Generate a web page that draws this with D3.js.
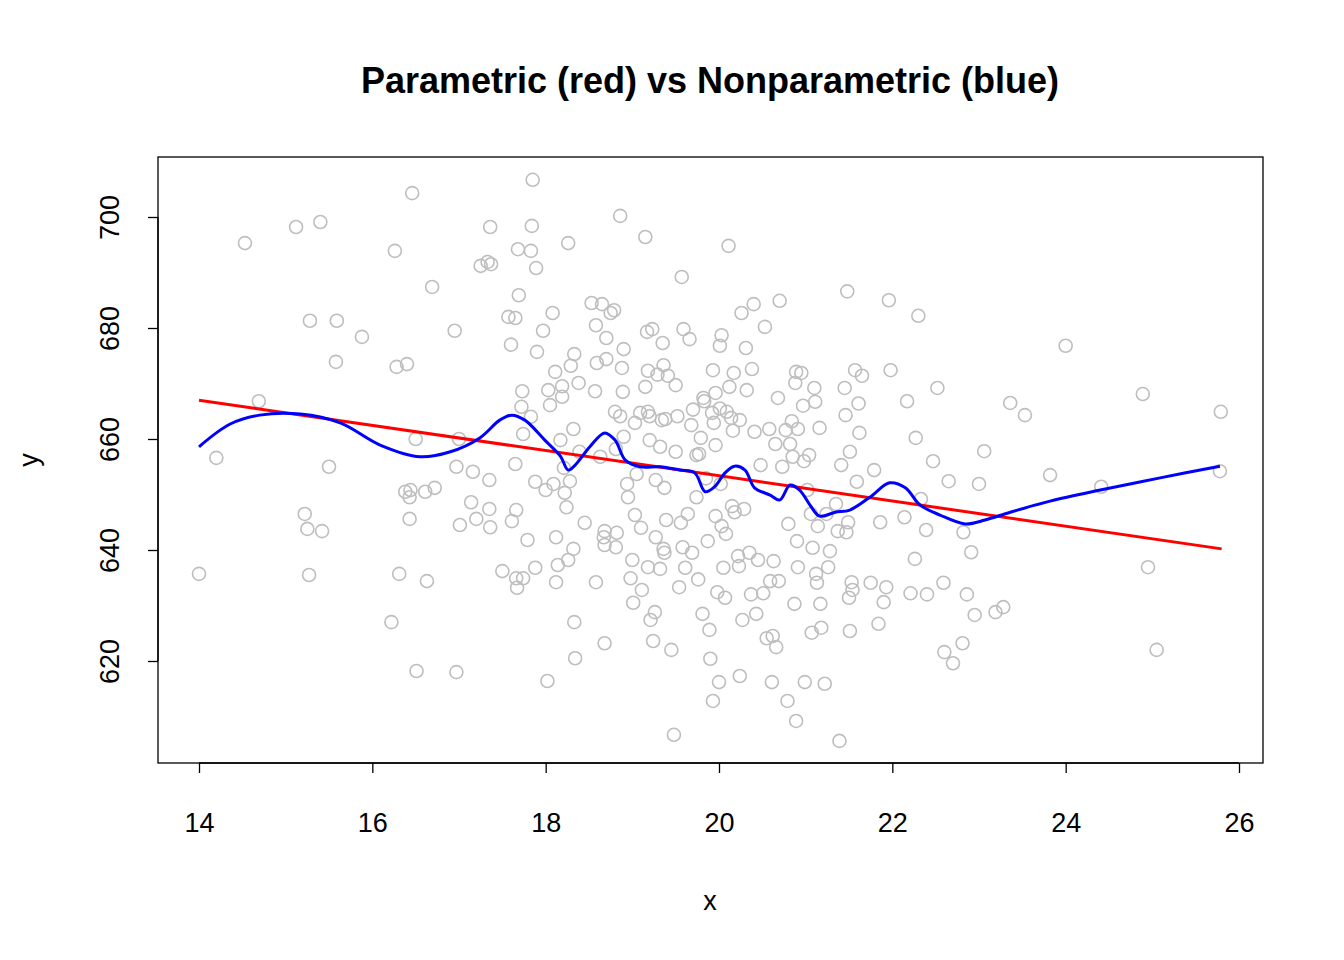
<!DOCTYPE html>
<html>
<head>
<meta charset="utf-8">
<script src="https://cdn.jsdelivr.net/npm/d3@7"></script>
<style>
  body { margin: 0; background: white; }
  text { font-family: "Liberation Sans", Arial, sans-serif; }
</style>
</head>
<body>
<div id="container"></div>
<script>
// scatter points
const px = [14.0,14.2,14.53,14.69,15.12,15.4,15.28,15.59,15.88,15.58,15.22,15.25,15.27,15.42,15.5,16.26,16.46,16.28,16.4,16.22,16.31,16.38,16.44,16.43,16.43,16.5,16.51,16.61,16.63,16.69,16.72,16.95,16.97,16.97,17.0,17.01,17.14,17.16,17.2,17.25,17.33,17.37,17.36,17.35,17.35,17.36,17.5,17.57,17.6,17.65,17.68,17.69,17.65,17.66,17.61,17.66,17.67,17.74,17.73,17.72,17.74,17.79,17.83,17.84,17.85,17.89,17.9,17.83,17.88,17.88,17.97,18.0,18.02,18.03,18.05,18.08,18.11,18.09,18.12,18.12,18.14,18.17,18.19,18.19,18.21,18.22,18.24,18.26,18.28,18.29,18.33,18.32,18.32,18.33,18.34,18.26,18.38,18.39,18.45,18.53,18.58,18.59,18.57,18.58,18.63,18.65,18.67,18.68,18.68,18.68,18.7,18.7,18.75,18.79,18.8,18.81,18.81,18.82,18.86,18.86,18.88,18.89,18.9,18.9,18.94,18.95,18.98,19.0,19.01,19.03,19.03,19.05,19.09,19.1,19.11,19.15,19.15,19.17,19.18,19.18,19.18,19.2,19.2,19.21,19.23,19.24,19.26,19.27,19.27,19.29,19.32,19.32,19.34,19.35,19.36,19.36,19.37,19.37,19.38,19.39,19.41,19.45,19.48,19.5,19.5,19.52,19.54,19.56,19.57,19.58,19.59,19.61,19.64,19.66,19.68,19.69,19.7,19.74,19.74,19.76,19.77,19.79,19.81,19.82,19.83,19.85,19.87,19.89,19.9,19.93,19.93,19.92,19.94,19.96,19.96,19.96,19.98,20.0,20.01,20.01,20.02,20.03,20.03,20.05,20.07,20.08,20.09,20.11,20.12,20.14,20.15,20.16,20.17,20.18,20.22,20.23,20.24,20.24,20.26,20.27,20.29,20.31,20.32,20.35,20.37,20.38,20.4,20.41,20.43,20.45,20.48,20.51,20.53,20.55,20.58,20.59,20.61,20.62,20.63,20.65,20.66,20.68,20.69,20.7,20.73,20.77,20.79,20.8,20.82,20.84,20.85,20.87,20.88,20.89,20.89,20.9,20.91,20.91,20.95,20.97,20.98,20.99,21.02,21.04,21.06,21.07,21.08,21.1,21.11,21.12,21.13,21.14,21.16,21.17,21.18,21.22,21.24,21.26,21.28,21.35,21.37,21.39,21.41,21.45,21.46,21.47,21.48,21.49,21.5,21.51,21.51,21.53,21.54,21.57,21.59,21.61,21.62,21.65,21.75,21.79,21.84,21.86,21.9,21.93,21.96,21.98,22.14,22.17,22.21,22.26,22.27,22.3,22.33,22.39,22.4,22.47,22.52,22.59,22.6,22.65,22.7,22.81,22.82,22.86,22.91,22.95,23.0,23.06,23.19,23.28,23.36,23.53,23.82,24.0,24.41,24.89,24.95,25.05,25.79,25.78];
const py = [635.7,656.6,695.3,666.8,698.2,699.1,681.3,681.3,678.4,673.9,646.5,643.8,635.5,643.4,655.0,693.9,704.3,673.0,673.5,627.0,635.7,650.5,650.8,649.5,645.6,660.0,618.2,650.5,634.4,687.4,651.2,679.5,618.0,655.0,660.0,644.5,648.6,654.1,645.6,691.2,691.9,691.5,698.2,652.6,647.4,644.1,636.2,682.0,677.0,681.8,694.2,685.9,655.5,647.2,645.2,634.9,633.2,634.9,668.6,665.8,660.9,641.8,693.9,698.4,706.7,690.8,675.7,664.0,636.8,652.3,679.5,650.8,616.4,668.8,666.1,682.7,672.1,651.9,642.3,634.2,637.3,659.8,667.6,669.5,654.8,650.3,647.7,695.3,652.4,673.2,675.3,661.8,640.2,627.0,620.5,638.2,670.1,657.7,644.9,684.5,680.5,673.7,668.6,634.2,656.8,684.3,642.3,640.9,643.4,623.2,674.4,678.2,682.7,683.2,664.9,640.5,658.2,643.1,664.1,700.2,672.8,668.5,676.2,660.4,651.9,649.5,634.9,638.2,630.5,662.9,646.3,653.7,664.7,644.0,632.8,696.4,669.4,679.3,672.3,664.9,636.9,659.8,664.1,627.4,679.8,623.6,628.8,652.6,642.3,671.6,636.6,658.6,663.4,677.3,673.3,640.2,639.5,651.2,663.6,645.4,671.4,622.0,606.7,669.7,657.7,664.1,633.3,644.9,689.2,640.5,679.8,636.8,646.5,678.0,662.5,639.5,665.3,657.1,649.5,634.7,657.3,660.2,628.5,667.4,666.8,652.9,641.6,625.6,620.4,612.8,672.4,664.7,662.9,668.3,658.9,646.1,632.4,616.2,665.5,676.8,651.9,644.3,678.7,636.8,631.4,642.9,664.9,694.8,669.4,663.8,647.9,661.5,671.9,646.8,638.9,637.1,663.4,617.3,682.7,627.4,647.4,676.4,668.8,639.5,632.0,672.6,684.3,661.3,628.5,638.2,655.3,632.2,680.2,624.1,661.8,634.4,616.2,624.5,638.0,659.1,622.5,667.4,634.4,684.9,655.0,661.6,612.8,644.7,659.1,663.2,656.8,630.3,670.1,672.1,609.2,641.6,636.9,661.8,671.9,666.0,656.0,616.2,650.8,657.1,646.5,625.1,640.4,669.2,666.7,635.7,634.1,644.3,662.0,630.3,626.0,615.9,646.5,636.9,639.8,648.3,643.4,605.6,655.3,669.2,664.3,643.2,686.6,645.0,631.4,657.7,625.4,634.2,632.8,672.4,652.3,666.4,661.1,671.4,634.1,654.4,626.7,645.0,630.6,633.3,685.0,672.4,645.9,666.8,632.2,638.4,660.2,682.2,649.2,643.6,632.0,656.0,669.2,634.1,621.6,652.4,619.6,623.2,643.2,632.0,639.6,628.3,651.9,657.8,628.8,629.7,666.5,664.3,653.5,676.8,651.4,668.1,636.9,622.0,664.9,654.2];

// parametric fit (red), endpoints
const fitX = [14.0, 25.8];
const fitY = [667.0, 640.2];

// nonparametric fit (blue)
const smX = [14.0,14.36,14.7,15.17,15.63,16.09,16.55,16.9,17.24,17.47,17.61,17.76,17.99,18.17,18.26,18.34,18.51,18.68,18.8,18.92,19.09,19.32,19.55,19.72,19.84,19.95,20.07,20.18,20.3,20.41,20.59,20.7,20.82,20.93,21.05,21.16,21.34,21.51,21.74,21.97,22.15,22.32,22.55,22.84,23.07,23.36,23.82,24.4,25.09,25.78];
const smY = [658.6,662.7,664.3,664.5,662.9,658.9,656.8,657.7,660.2,663.4,664.3,663.4,659.8,656.9,654.4,655.3,658.6,661.1,659.8,656.2,655.0,655.0,654.4,653.9,650.5,651.4,653.9,655.1,654.4,651.2,649.9,649.0,651.7,650.8,648.1,646.1,646.8,647.2,649.5,652.1,651.2,648.1,646.3,644.7,645.4,646.8,648.8,650.8,653.0,655.1];

const xTicks = [14, 16, 18, 20, 22, 24, 26];
const yTicks = [620, 640, 660, 680, 700];

const W = 1344, H = 960;
const box = { left: 158, right: 1263, top: 157, bottom: 763 };
const font = '"Liberation Sans", Arial, sans-serif';

let svg = d3.select('#container').append('svg')
    .attr('width', W).attr('height', H);

let x = d3.scaleLinear().domain([14, 26]).range([199, 1239]);
let y = d3.scaleLinear().domain([620, 700]).range([661, 217]);

svg.append('text')
    .text('Parametric (red) vs Nonparametric (blue)')
    .attr('x', 710).attr('y', 93)
    .attr('text-anchor', 'middle')
    .attr('font-size', 36).attr('font-weight', 'bold');

// points
svg.append('g').selectAll('circle').data(px)
    .enter().append('circle')
    .attr('cx', d => x(d))
    .attr('cy', (d, i) => y(py[i]))
    .attr('r', 6.5)
    .attr('fill', 'none')
    .attr('stroke', '#bebebe')
    .attr('stroke-width', 1.6);

svg.append('path')
    .datum(fitX.map((d, i) => [d, fitY[i]]))
    .attr('d', d3.line().x(d => x(d[0])).y(d => y(d[1])))
    .attr('stroke', '#ff0000').attr('stroke-width', 3).attr('fill', 'none');

svg.append('path')
    .datum(smX.map((d, i) => [d, smY[i]]))
    .attr('d', d3.line().curve(d3.curveCatmullRom).x(d => x(d[0])).y(d => y(d[1])))
    .attr('stroke', '#0000ff').attr('stroke-width', 3).attr('fill', 'none');

// frame
svg.append('rect')
    .attr('x', box.left).attr('y', box.top)
    .attr('width', box.right - box.left).attr('height', box.bottom - box.top)
    .attr('fill', 'none').attr('stroke', 'black').attr('stroke-width', 1.3);

// axes
let xAxis = svg.append('g')
    .attr('transform', `translate(0,${box.bottom})`)
    .call(d3.axisBottom(x).tickValues(xTicks).tickSize(10).tickPadding(40).tickFormat(d3.format('d')));
xAxis.select('.domain').attr('d', `M${x(14)},0H${x(26)}`);
xAxis.selectAll('text').attr('font-size', 27).attr('font-family', font);

let yAxis = svg.append('g')
    .attr('transform', `translate(${box.left},0)`)
    .call(d3.axisLeft(y).tickValues(yTicks).tickSize(10).tickFormat(d3.format('d')));
yAxis.select('.domain').attr('d', `M0,${y(620)}V${y(700)}`);
yAxis.selectAll('text')
    .attr('font-size', 27).attr('font-family', font)
    .attr('text-anchor', 'middle')
    .attr('transform', 'translate(-48,0) rotate(-90)')
    .attr('x', 0).attr('y', 0).attr('dy', '0.35em');
svg.selectAll('.domain, .tick line').attr('stroke-width', 1.3);

svg.append('text').text('x')
    .attr('x', 710).attr('y', 910)
    .attr('text-anchor', 'middle').attr('font-size', 27);
svg.append('text').text('y')
    .attr('transform', 'translate(38,460) rotate(-90)')
    .attr('text-anchor', 'middle').attr('font-size', 27);
</script>
</body>
</html>
